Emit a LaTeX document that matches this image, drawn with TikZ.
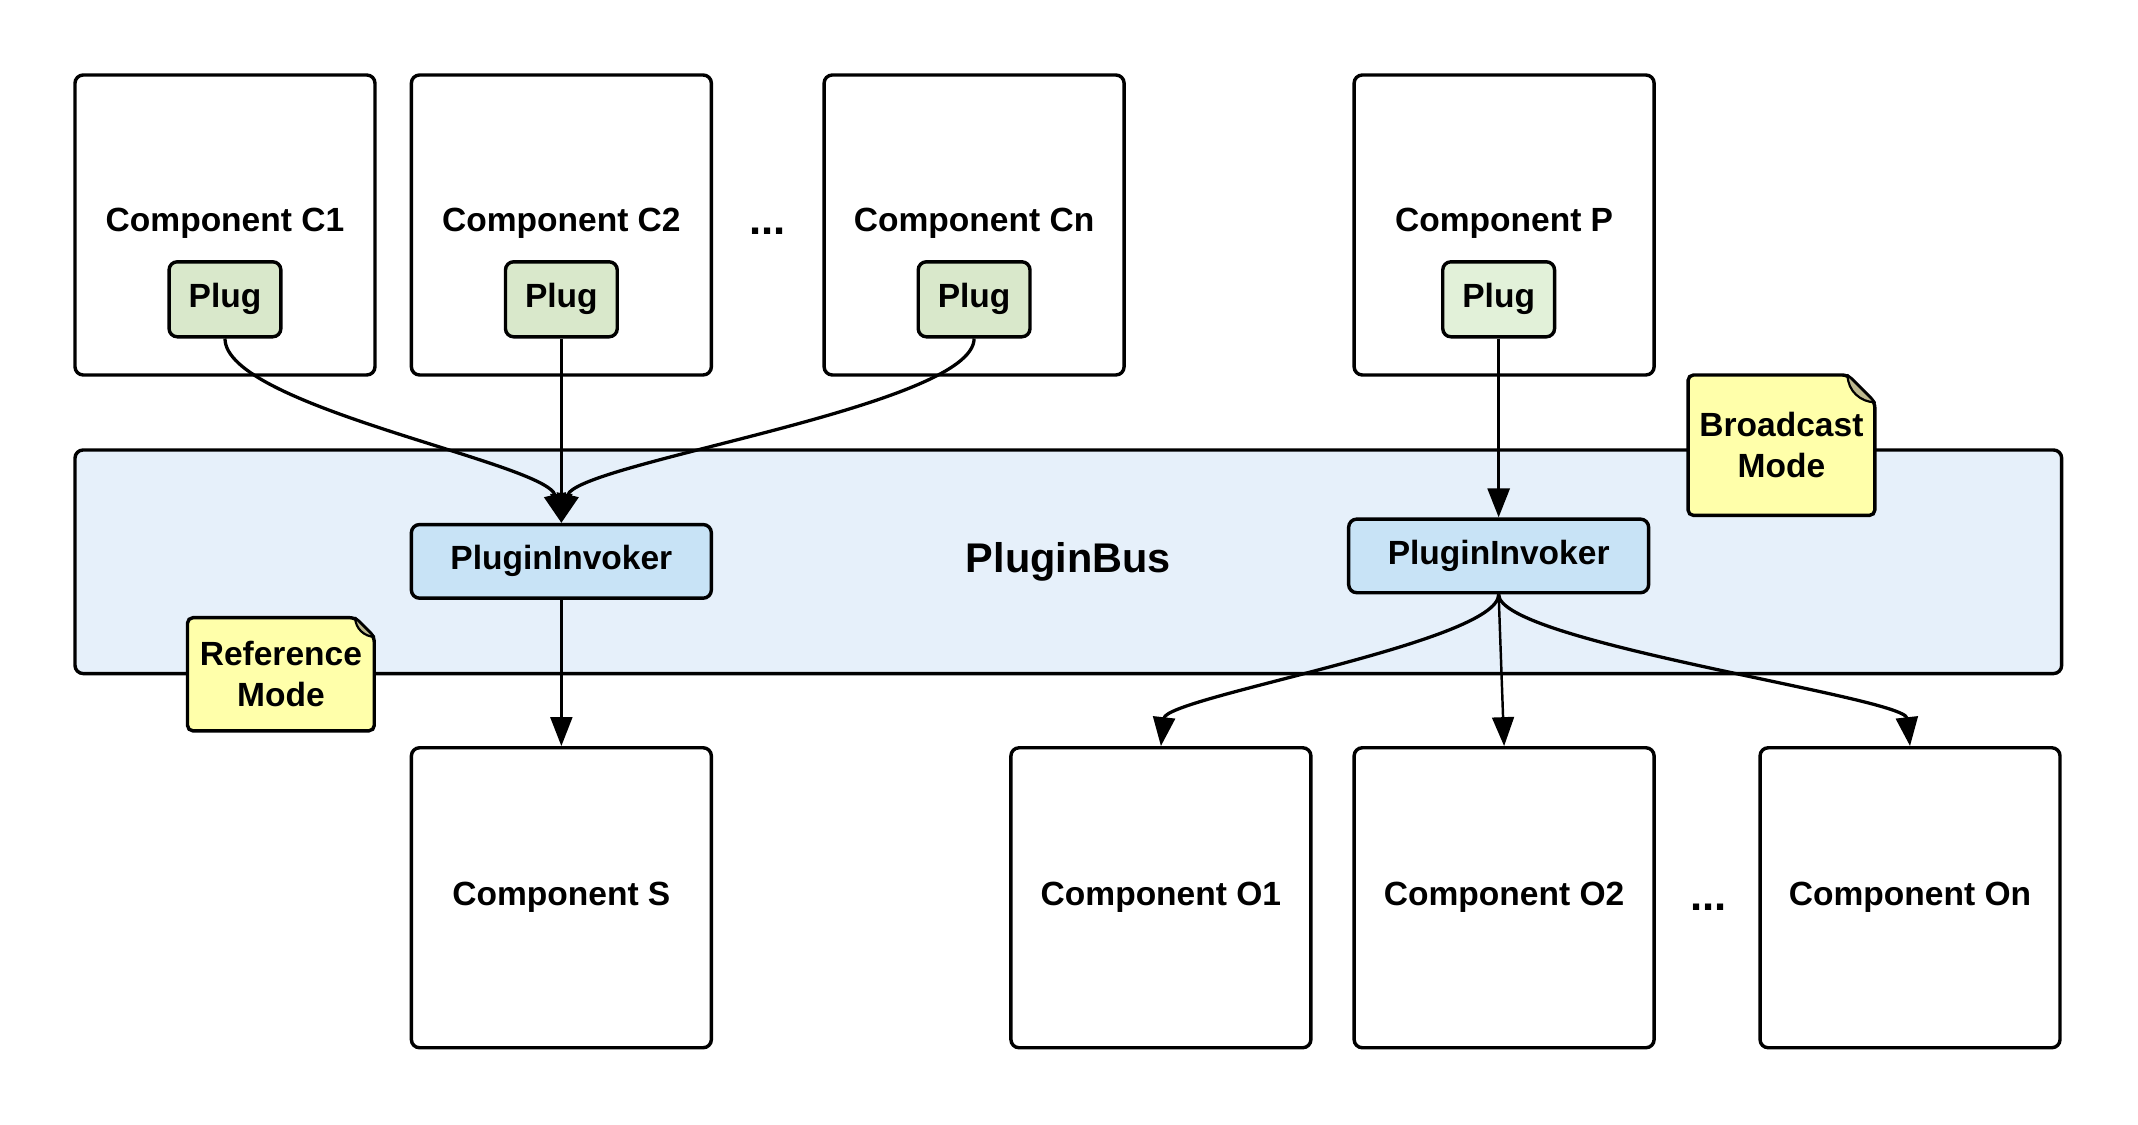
\documentclass[tikz,border=0pt]{standalone}
\usepackage{fontspec}
\setmainfont{Liberation Sans}
\usetikzlibrary{positioning}
\usetikzlibrary{arrows.meta}
\definecolor{plugfill}{HTML}{D9E8CB}
\definecolor{plugfillp}{HTML}{E2F1D9}
\definecolor{busfill}{HTML}{E6F0FA}
\definecolor{invokerfill}{HTML}{C8E3F6}
\definecolor{notefill}{HTML}{FFFFAA}
\definecolor{notefold}{HTML}{BDB98F}

\begin{document}
\begin{tikzpicture}[
    x=0.5pt, y=-0.5pt,
    font=\fontsize{12.3}{15}\selectfont\bfseries,
    comp/.style={rectangle, draw=black, fill=white, line width=1.25pt, rounded corners=3pt, minimum width=110pt, minimum height=110pt, inner sep=0pt, align=center},
    plug/.style={rectangle, draw=black, fill=plugfill, line width=1.25pt, rounded corners=3pt, minimum width=41pt, minimum height=27.5pt, inner sep=0pt},
    invoker/.style={rectangle, draw=black, fill=invokerfill, line width=1.25pt, rounded corners=3pt, minimum width=110pt, minimum height=27pt, inner sep=0pt},
    bus/.style={rectangle, draw=black, fill=busfill, line width=1.25pt, rounded corners=3pt, minimum width=728.5pt, minimum height=82pt, inner sep=0pt, font=\fontsize{15.2}{18}\selectfont\bfseries},
    notespot/.style={rectangle, draw=none, fill=none, inner sep=0pt, outer sep=0pt, minimum width=68.5pt},
    notebox/.style={draw=black, fill=notefill, line width=1.25pt, rounded corners=2pt},
    notecurl/.style={draw=black, fill=notefold, line width=0.8pt, line join=round},
    dots/.style={font=\fontsize{16}{18}\selectfont\bfseries, anchor=base},
    flow/.style={-{Triangle[length=10.6pt, width=8pt]}, line width=1.2pt},
    thinflow/.style={-{Triangle[length=10.6pt, width=8pt]}, line width=0.9pt},
    ]
        \useasboundingbox (0,0) rectangle (1568,825);

        % sending components
        \node[comp] (c1) at (165,165) {};
        \node[comp, right = 12.1pt of c1] (c2) {};
        \node[comp, right = 40.1pt of c2] (cn) {};
        \node[comp, right = 83.1pt of cn] (p) {};
        \node[anchor=base] at ([yshift=-2.5pt]c1.center) {Component C1};
        \node[anchor=base] at ([yshift=-2.5pt]c2.center) {Component C2};
        \node[anchor=base] at ([yshift=-2.5pt]cn.center) {Component Cn};
        \node[anchor=base] at ([yshift=-2.5pt]p.center) {Component P};
        \node[dots] at (563,172) {...};

        \node[plug] (c1plug) at ([yshift=-27.25pt]c1.center) {Plug};
        \node[plug] (c2plug) at ([yshift=-27.25pt]c2.center) {Plug};
        \node[plug] (cnplug) at ([yshift=-27.25pt]cn.center) {Plug};
        \node[plug, fill=plugfillp] (pplug) at ([xshift=-2pt, yshift=-27.25pt]p.center) {Plug};

        % the bus
        \node[bus] (pbus) at (783.5,412) {PluginBus};
        \node[invoker, below = 53.6pt of c2] (invl) {PluginInvoker};
        \node[invoker, below = 51.6pt of p, xshift=-2pt] (invr) {PluginInvoker};

        % receiving components
        \node[comp, below = 53.6pt of invl] (s) {Component S};
        \node[comp, below = 55.6pt of p.south |- invr.south] (o2) {Component O2};
        \node[comp, left = 14.6pt of o2] (o1) {Component O1};
        \node[comp, right = 37.6pt of o2] (on) {Component On};
        \node[dots] at (1253,668) {...};

        % notes
        \node[notespot, minimum height=51.5pt] (bcast) at (1306.5,326.5) {};
        \draw[notebox] (bcast.north west) -- ([xshift=-10pt]bcast.north east) -- ([yshift=-10pt]bcast.north east) -- (bcast.south east) -- (bcast.south west) -- cycle;
        \draw[notecurl] ([xshift=-10pt]bcast.north east) .. controls ([xshift=-10pt, yshift=-6pt]bcast.north east) and ([xshift=-5pt, yshift=-10pt]bcast.north east) .. ([yshift=-10pt]bcast.north east) -- cycle;
        \node[align=center] at (bcast) {Broadcast\\Mode};

        \node[notespot, minimum height=41.5pt] (refm) at (206,494.5) {};
        \draw[notebox] (refm.north west) -- ([xshift=-7pt]refm.north east) -- ([yshift=-7pt]refm.north east) -- (refm.south east) -- (refm.south west) -- cycle;
        \draw[notecurl] ([xshift=-7pt]refm.north east) .. controls ([xshift=-7pt, yshift=-4pt]refm.north east) and ([xshift=-3.5pt, yshift=-7pt]refm.north east) .. ([yshift=-7pt]refm.north east) -- cycle;
        \node[align=center] at (refm) {Reference\\Mode};

        % connectors
        \draw[flow] (c1plug.south) .. controls ([yshift=-25pt]c1plug.south) and ([xshift=-5pt, yshift=22pt]invl.north) .. (invl.north);
        \draw[flow] (cnplug.south) .. controls ([yshift=-25pt]cnplug.south) and ([xshift=5pt, yshift=22pt]invl.north) .. (invl.north);
        \draw[thinflow] (c2plug.south) -- (invl.north);
        \draw[flow] (pplug.south) -- (invr.north);

        \draw[thinflow] (invl.south) -- (s.north);
        \draw[flow] (invr.south) .. controls ([yshift=-17.5pt]invr.south) and ([xshift=2pt, yshift=18pt]o1.north) .. (o1.north);
        \draw[thinflow] (invr.south) -- (o2.north);
        \draw[flow] (invr.south) .. controls ([yshift=-17.5pt]invr.south) and ([xshift=-2pt, yshift=18pt]on.north) .. (on.north);
    \end{tikzpicture}
\end{document}
